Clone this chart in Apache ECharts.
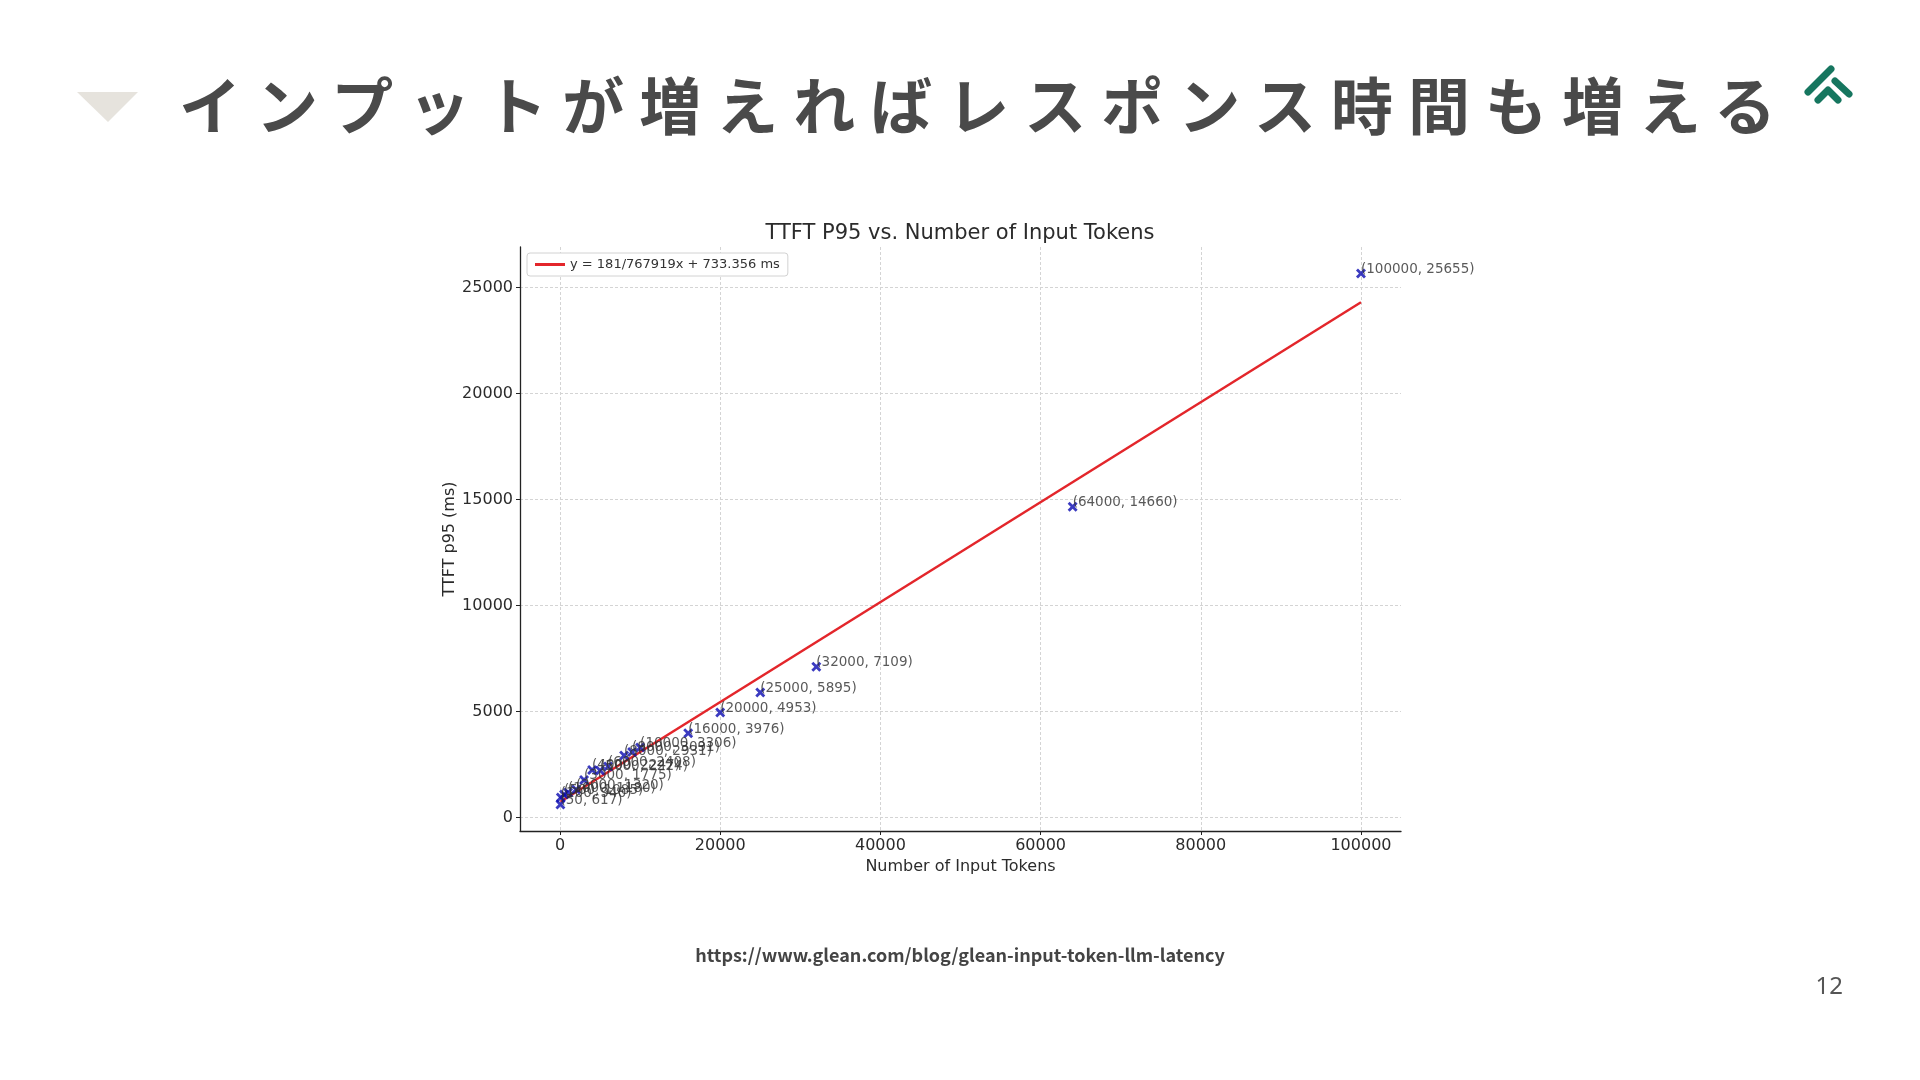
<!DOCTYPE html>
<html>
<head>
<meta charset="utf-8">
<script src="https://cdn.jsdelivr.net/npm/echarts@6/dist/echarts.min.js"></script>
<style>
  html, body { margin: 0; padding: 0; background: #fff; }
  #slide { position: relative; width: 1920px; height: 1080px; overflow: hidden; }
  #chart { position: absolute; left: 0; top: 0; width: 1920px; height: 1080px; }
  #heading {
    position: absolute; left: 179px; top: 61px; margin: 0;
    font-family: "Noto Sans CJK JP"; font-weight: 700; font-size: 62px;
    letter-spacing: 15px; line-height: 84px; color: #4a4a4a; white-space: nowrap;
  }
</style>
</head>
<body>
<div id="slide">
  <div id="chart"></div>
  <h1 id="heading">インプットが増えればレスポンス時間も増える</h1>
</div>
<script>
// measured points (input tokens, TTFT p95 in ms)
const tokens = [50, 100, 500, 1000, 2000, 3000, 4000, 5000, 6000, 8000, 9000, 10000, 16000, 20000, 25000, 32000, 64000, 100000]
const ttftP95 = [617, 940, 1085, 1180, 1320, 1775, 2247, 2224, 2408, 2931, 3091, 3306, 3976, 4953, 5895, 7109, 14660, 25655]

// fitted line end points
const fitX = [50, 100000]
const fitY = [745, 24303]
const fitName = 'y = 181/767919x + 733.356 ms'

const xTicks = [0, 20000, 40000, 60000, 80000, 100000]
const yTicks = [0, 5000, 10000, 15000, 20000, 25000]

const mpl = 'DejaVu Sans'
const crossIcon = 'path://M0,2 L2,0 L5,3 L8,0 L10,2 L7,5 L10,8 L8,10 L5,7 L2,10 L0,8 L3,5 Z'

const chart = echarts.init(document.getElementById('chart'))

const axisCommon = {
  type: 'value',
  nameLocation: 'middle',
  nameTextStyle: { fontFamily: mpl, fontSize: 16, color: '#2b2b2b' },
  axisLine: { show: true, onZero: false, lineStyle: { color: '#222', width: 1.3 } },
  splitLine: { show: true, lineStyle: { color: '#d4d4d4', type: [3, 2], width: 1 } }
}

const tickLabel = { margin: 7, fontFamily: mpl, fontSize: 16, color: '#2b2b2b', formatter: v => String(v) }

const option = {
  backgroundColor: '#fff',
  animation: false,
  title: {
    text: 'TTFT P95 vs. Number of Input Tokens',
    left: 'center',
    top: 218,
    textStyle: { fontFamily: mpl, fontSize: 21, fontWeight: 'normal', color: '#2b2b2b' }
  },
  legend: {
    left: 527,
    top: 253,
    data: [{ name: fitName, icon: 'rect' }],
    itemWidth: 30,
    itemHeight: 3,
    padding: [5, 8],
    backgroundColor: '#fff',
    borderColor: '#d2d2d2',
    borderWidth: 1,
    borderRadius: 3,
    textStyle: { fontFamily: mpl, fontSize: 13, color: '#333' }
  },
  grid: { left: 520, right: 519, top: 247, bottom: 249 },
  xAxis: {
    ...axisCommon,
    min: -4998,
    max: 104998,
    name: 'Number of Input Tokens',
    nameGap: 24,
    axisTick: { show: true, customValues: xTicks, length: 4, lineStyle: { color: '#222' } },
    axisLabel: { ...tickLabel, customValues: xTicks }
  },
  yAxis: {
    ...axisCommon,
    min: -635,
    max: 26907,
    name: 'TTFT p95 (ms)',
    nameGap: 57,
    axisTick: { show: true, customValues: yTicks, length: 4, lineStyle: { color: '#222' } },
    axisLabel: { ...tickLabel, customValues: yTicks }
  },
  series: [
    {
      name: fitName,
      type: 'line',
      data: fitX.map((x, i) => [x, fitY[i]]),
      symbol: 'none',
      lineStyle: { color: '#e3262b', width: 2.5 },
      itemStyle: { color: '#e3262b' },
      z: 2
    },
    {
      name: 'TTFT P95',
      type: 'scatter',
      data: tokens.map((t, i) => [t, ttftP95[i]]),
      symbol: crossIcon,
      symbolSize: 10,
      itemStyle: { color: '#0a0ab0' },
      label: {
        show: true,
        position: [5, 8],
        align: 'left',
        verticalAlign: 'bottom',
        fontFamily: mpl,
        fontSize: 13.5,
        color: '#2f2f2f',
        formatter: p => '(' + p.value[0] + ', ' + p.value[1] + ')'
      },
      labelLayout: { hideOverlap: false },
      z: 3
    }
  ],
  graphic: [
    {
      type: 'polygon',
      shape: { points: [[77, 92], [138, 92], [108, 122]] },
      style: { fill: '#e6e3dd' }
    },
    {
      type: 'group',
      children: [
        { type: 'polyline', shape: { points: [[1808, 92], [1831, 69]] }, style: { stroke: '#16765f', lineWidth: 7, lineCap: 'round', fill: null } },
        { type: 'polyline', shape: { points: [[1835, 81], [1849, 94]] }, style: { stroke: '#16765f', lineWidth: 7, lineCap: 'round', fill: null } },
        { type: 'polyline', shape: { points: [[1818, 100], [1828, 90], [1838, 100]] }, style: { stroke: '#16765f', lineWidth: 7, lineCap: 'round', lineJoin: 'round', fill: null } }
      ]
    },
    {
      type: 'text',
      x: 960,
      y: 955,
      style: {
        text: 'https://www.glean.com/blog/glean-input-token-llm-latency',
        fontFamily: 'Noto Sans CJK JP',
        fontWeight: 'bold',
        fontSize: 18,
        fill: '#444',
        align: 'center',
        verticalAlign: 'middle'
      }
    },
    {
      type: 'text',
      x: 1843,
      y: 987,
      style: {
        text: '12',
        fontFamily: 'Noto Sans',
        fontSize: 24,
        fill: '#555',
        align: 'right',
        verticalAlign: 'middle'
      }
    }
  ]
}

chart.setOption(option)
</script>
</body>
</html>
